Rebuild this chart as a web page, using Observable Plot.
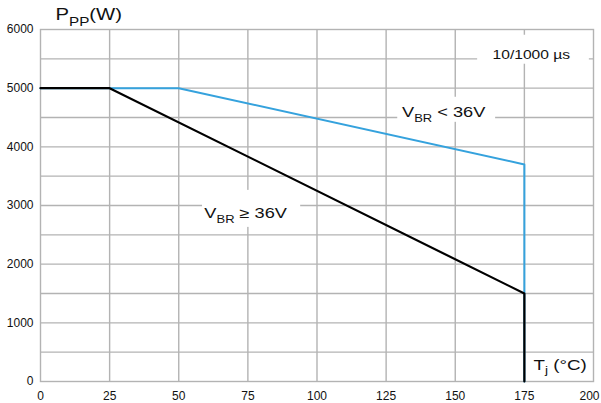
<!DOCTYPE html>
<html>
<head>
<meta charset="utf-8">
<script src="https://cdn.jsdelivr.net/npm/d3@7"></script>
<script src="https://cdn.jsdelivr.net/npm/@observablehq/plot@0.6"></script>
<style>
  body { margin: 0; background: #fff; }
  #chart { width: 601px; height: 403px; }
</style>
</head>
<body>
<div id="chart"></div>
<script>
// Tick / grid values
const xTicks = [0, 25, 50, 75, 100, 125, 150, 175, 200];
const yTicks = [0, 1000, 2000, 3000, 4000, 5000, 6000];
const xGrid = [25, 50, 75, 100, 125, 150, 175];
const yGrid = [500, 1000, 1500, 2000, 2500, 3000, 3500, 4000, 4500, 5000, 5500];

// Series: VBR < 36V (blue)
const tjLow = [0, 50, 175, 175];
const pppLow = [5000, 5000, 3700, 0];
// Series: VBR >= 36V (black)
const tjHigh = [0, 25, 175, 175];
const pppHigh = [5000, 5000, 1500, 0];

// Annotation labels
const labelText = ["10/1000 µs", "VBR < 36V", "VBR ≥ 36V", "Tj (°C)", "PPP(W)"];
const labelX = [177.5, 145.8, 74.2, 178.3, 5.4];
const labelY = [5505, 4516, 2786, 200, 6170];
const labelAnchor = ["middle", "middle", "middle", "start", "start"];
const labelSize = [12, 14, 14, 15, 16];
const labelStretch = [1.3, 1.3, 1.3, 1.25, 1.27];
// subscript splits: [main, sub, rest, sub font size, sub shift]
const labelSub = [null, ["V", "BR", " < 36V", 10, 5], ["V", "BR", " ≥ 36V", 10, 5], ["T", "j", " (°C)", 11, 4], ["P", "PP", "(W)", 12, 6]];

// White label backgrounds (gaps in grid)
const boxX1 = [158.1, 129.2, 58.6];
const boxX2 = [198.5, 164.6, 94.1];
const boxY1 = [5408, 4418, 2627];
const boxY2 = [5902, 4845, 3258];

const lowData = tjLow.map((t, i) => ({tj: t, ppp: pppLow[i]}));
const highData = tjHigh.map((t, i) => ({tj: t, ppp: pppHigh[i]}));
const boxIdx = boxX1.map((_, i) => i);
const gridColor = "#b3b3b3";

const marks = [
  Plot.ruleX(xGrid, {stroke: gridColor, strokeWidth: 1.4}),
  Plot.ruleY(yGrid, {stroke: gridColor, strokeWidth: 1.4}),
  Plot.frame({stroke: gridColor, strokeWidth: 1.4}),
  Plot.rect(boxIdx, {x1: i => boxX1[i], x2: i => boxX2[i], y1: i => boxY1[i], y2: i => boxY2[i], fill: "#fff"}),
  Plot.line(lowData, {x: "tj", y: "ppp", stroke: "#35a2dd", strokeWidth: 2}),
  Plot.line(highData, {x: "tj", y: "ppp", stroke: "#000", strokeWidth: 2.2})
];
labelText.forEach((t, i) => {
  marks.push(Plot.text([t], {
    x: () => labelX[i], y: () => labelY[i], text: d => d,
    textAnchor: labelAnchor[i], lineAnchor: "bottom",
    fontSize: labelSize[i], fill: "#111"
  }));
});

const svg = Plot.plot({
  width: 601,
  height: 403,
  marginLeft: 40,
  marginRight: 8,
  marginTop: 29,
  marginBottom: 22,
  style: {fontFamily: "'Liberation Sans', Arial, sans-serif", fontSize: "12px", color: "#111", background: "#fff", overflow: "visible"},
  x: {domain: [0, 200], ticks: xTicks, tickSize: 0, tickPadding: 10, label: null, tickFormat: d => String(d)},
  y: {domain: [0, 6000], ticks: yTicks, tickSize: 0, tickPadding: 7, label: null, tickFormat: d => String(d)},
  marks
});

// subscripts and horizontal stretch of annotation texts
d3.select(svg).selectAll("text").each(function() {
  const content = this.textContent;
  const i = labelText.indexOf(content);
  const s = d3.select(this);
  if (i >= 0) {
    const sub = labelSub[i];
    if (sub) {
      s.selectAll("*").remove();
      s.text(null);
      s.append("tspan").text(sub[0]);
      s.append("tspan").attr("dy", sub[4]).attr("font-size", sub[3]).text(sub[1]);
      s.append("tspan").attr("dy", -sub[4]).text(sub[2]);
    }
    const tr = s.attr("transform") || "";
    s.attr("transform", tr + ` scale(${labelStretch[i]},1)`);
  } else if (content === "200") {
    const tr = s.attr("transform") || "";
    s.attr("transform", tr + " translate(-4,0)");
  }
});

document.getElementById("chart").appendChild(svg);
</script>
</body>
</html>
